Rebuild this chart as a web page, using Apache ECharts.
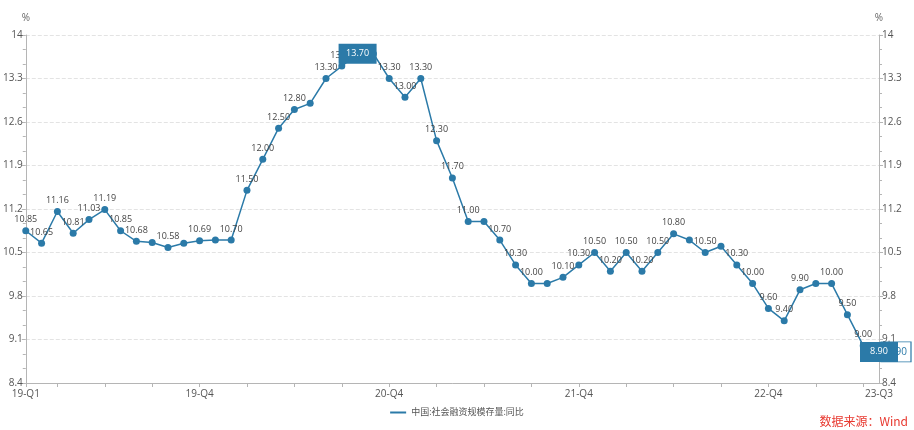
<!DOCTYPE html>
<html>
<head>
<meta charset="utf-8">
<title>社会融资规模存量同比</title>
<script src="https://cdn.jsdelivr.net/npm/echarts@6/dist/echarts.min.js"></script>
<style>
  html, body { margin: 0; padding: 0; background: #fff; }
  .chart { width: 914px; height: 430px; }
</style>
</head>
<body>
<div class="chart"></div>
<script>
// 社融存量同比 月度数据 2019-01 ~ 2023-07

// x轴类目(月份)
let months = [];
for (let y = 2019; y <= 2023; y++) {
  for (let m = 1; m <= 12; m++) {
    if (y === 2023 && m > 7) break;
    months.push(y + '-' + (m < 10 ? '0' + m : m));
  }
}

// 同比数值
const tsfYoy = [
  10.85, 10.65, 11.16, 10.81, 11.03, 11.19, 10.85, 10.68, 10.66, 10.58,
  10.65, 10.69, 10.70, 10.70, 11.50, 12.00, 12.50, 12.80, 12.90, 13.30,
  13.50, 13.70, 13.70, 13.30, 13.00, 13.30, 12.30, 11.70, 11.00, 11.00,
  10.70, 10.30, 10.00, 10.00, 10.10, 10.30, 10.50, 10.20, 10.50, 10.20,
  10.50, 10.80, 10.70, 10.50, 10.60, 10.30, 10.00, 9.60, 9.40, 9.90,
  10.00, 10.00, 9.50, 9.00, 8.90
];

// x轴刻度标签
const tickIdx = [0, 11, 23, 35, 47, 54];
const tickText = ['19-Q1', '19-Q4', '20-Q4', '21-Q4', '22-Q4', '23-Q3'];

// y轴刻度
const yMin = 8.4, yMax = 14, yStep = 0.7;

// 被标注框挡住的数据标签
const hiddenLabelIdx = [21, 22, 54];

const seriesName = '中国:社会融资规模存量:同比';
const mainColor = '#2b7aa8';
const fontFam = '"Open Sans", "Noto Sans", "Noto Sans CJK SC", sans-serif';

(function () {
  let myChart = echarts.init(document.querySelector('.chart'));
  const last = tsfYoy.length - 1;

  let seriesData = tsfYoy.map(function (v, i) {
    if (hiddenLabelIdx.indexOf(i) >= 0) {
      return { value: v, label: { show: false } };
    }
    return v;
  });

  function yAxisOf(pos) {
    return {
      type: 'value',
      position: pos,
      min: yMin,
      max: yMax,
      interval: yStep,
      name: '%',
      nameGap: 12,
      nameTextStyle: { color: '#666', fontSize: 10, fontFamily: fontFam, align: 'center' },
      axisLine: { show: true, lineStyle: { color: '#b5b5b5' } },
      axisTick: { show: true, length: 4, lineStyle: { color: '#b5b5b5' } },
      minorTick: { show: true, splitNumber: 3, length: 3, lineStyle: { color: '#b5b5b5' } },
      axisLabel: {
        color: '#555', fontSize: 10, fontFamily: fontFam, margin: 3,
        formatter: function (v) { return String(+v.toFixed(1)); }
      },
      splitLine: pos === 'left'
        ? { show: true, lineStyle: { color: '#e3e3e3', type: 'dashed' } }
        : { show: false }
    };
  }

  let option = {
    animation: false,
    textStyle: { fontFamily: fontFam },
    grid: { left: 25, right: 35, top: 35, bottom: 47, containLabel: false },
    legend: {
      bottom: 8,
      left: 'center',
      itemWidth: 16,
      itemHeight: 10,
      icon: 'path://M0,4h16v2h-16z',
      textStyle: { color: '#555', fontSize: 9, fontFamily: fontFam },
      data: [seriesName]
    },
    xAxis: {
      type: 'category',
      boundaryGap: false,
      data: months,
      axisLine: { lineStyle: { color: '#b5b5b5' } },
      axisTick: {
        show: true,
        length: 4,
        interval: function (i) { return i % 3 === 2 || i === 0; },
        lineStyle: { color: '#b5b5b5' }
      },
      axisLabel: {
        color: '#555', fontSize: 10, fontFamily: fontFam, margin: 6,
        interval: function (i) { return tickIdx.indexOf(i) >= 0; },
        formatter: function (v, i) {
          const k = tickIdx.indexOf(i);
          return k >= 0 ? tickText[k] : '';
        }
      },
      splitLine: { show: false }
    },
    yAxis: [yAxisOf('left'), yAxisOf('right')],
    graphic: [{
      type: 'text',
      right: 6,
      bottom: 3,
      style: {
        text: '数据来源：Wind',
        fill: '#e8382f',
        font: '12px "Noto Sans CJK SC", sans-serif'
      }
    }],
    series: [{
      name: seriesName,
      type: 'line',
      data: seriesData,
      symbol: 'circle',
      symbolSize: 7,
      color: mainColor,
      lineStyle: { width: 1.5, color: mainColor },
      itemStyle: { color: mainColor },
      label: {
        show: true,
        position: 'top',
        distance: 3,
        color: '#444',
        fontSize: 9,
        fontFamily: fontFam,
        formatter: function (p) { return (+p.value).toFixed(2); }
      },
      labelLayout: { hideOverlap: true },
      markPoint: {
        symbol: 'rect',
        symbolSize: [38, 20],
        label: { color: '#fff', fontSize: 9, fontFamily: fontFam },
        data: [
          {
            coord: [last, tsfYoy[last]],
            value: tsfYoy[last].toFixed(2),
            symbolSize: [30, 20],
            symbolOffset: [17, 0],
            itemStyle: { color: '#fff', borderColor: mainColor, borderWidth: 1 },
            label: { color: mainColor, fontSize: 10, offset: [1, 0] }
          },
          {
            type: 'max',
            itemStyle: { color: mainColor },
            label: { formatter: function (p) { return (+p.value).toFixed(2); } }
          },
          {
            coord: [last, tsfYoy[last]],
            value: tsfYoy[last].toFixed(2),
            itemStyle: { color: mainColor }
          }
        ]
      }
    }]
  };

  myChart.setOption(option);
})();
</script>
</body>
</html>
